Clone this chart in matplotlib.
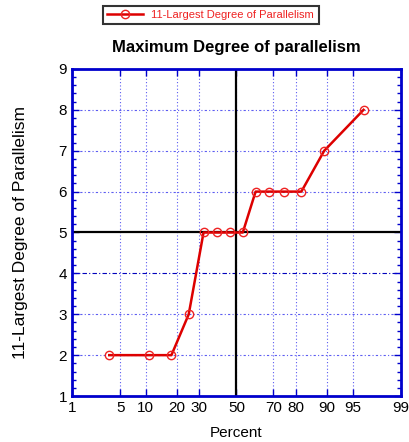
from statistics import NormalDist

import numpy as np
import matplotlib
matplotlib.use("Agg")
import matplotlib.pyplot as plt

plt.rcParams["font.family"] = ["Liberation Sans", "DejaVu Sans"]

# plotting positions (percent) and 11-largest degree of parallelism
percent = [3.6, 10.7, 17.9, 25.0, 32.1, 39.3, 46.4, 53.6, 60.7, 67.9, 75.0, 82.1, 89.3, 96.4]
degree = [2, 2, 2, 3, 5, 5, 5, 5, 6, 6, 6, 6, 7, 8]
x_ticks = [1, 5, 10, 20, 30, 50, 70, 80, 90, 95, 99]
y_ticks = [1, 2, 3, 4, 5, 6, 7, 8, 9]

ND = NormalDist()


def fwd(p):
    p = np.clip(np.asarray(p, dtype=float), 1e-6, 100 - 1e-6)
    return np.vectorize(lambda v: ND.inv_cdf(v / 100.0))(p) if p.size else p


def inv(z):
    z = np.asarray(z, dtype=float)
    return np.vectorize(lambda v: ND.cdf(v) * 100.0)(z) if z.size else z


fig = plt.figure(figsize=(4.09, 4.42), dpi=100)
ax = fig.add_axes([0.176, 0.104, 0.804, 0.740])
ax.set_xscale("function", functions=(fwd, inv))
ax.set_xlim(1, 99)
ax.set_ylim(1, 9)

blue = "#0000cc"
for xv in x_ticks[1:-1]:
    ax.axvline(xv, color="#3333ee", ls=(0, (1, 2)), lw=0.8, alpha=0.8, zorder=1)
for yv in y_ticks[1:-1]:
    if yv == 4:
        ax.axhline(yv, color="#0000bb", ls=(0, (4, 2, 1, 2)), lw=0.8, zorder=1)
    elif yv != 5:
        ax.axhline(yv, color="#3333ee", ls=(0, (2, 2, 1, 2)), lw=0.8, alpha=0.8, zorder=1)
ax.axvline(50, color="black", lw=1.6, zorder=2)
ax.axhline(5, color="black", lw=1.6, zorder=2)

ax.plot(percent, degree, color="#dd0000", lw=1.8, marker="o", ms=6,
        mfc="none", mec="#ee2222", mew=1.0, zorder=3,
        label="11-Largest Degree of Parallelism")

ax.set_xticks(x_ticks)
ax.set_xticklabels([str(v) for v in x_ticks])
ax.xaxis.set_minor_locator(matplotlib.ticker.NullLocator())
ax.set_yticks(y_ticks)
ax.set_yticks(np.arange(1, 9.01, 0.2), minor=True)
ax.tick_params(axis="both", which="major", labelsize=11, direction="in",
               length=5, color=blue, width=1, top=True, right=True)
ax.tick_params(axis="y", which="minor", direction="in", length=3,
               color=blue, width=1, right=True)
for s in ax.spines.values():
    s.set_color(blue)
    s.set_linewidth(2)

ax.set_xlabel("Percent", fontsize=11, labelpad=8)
ax.set_ylabel("11-Largest Degree of Parallelism", fontsize=12.5, labelpad=22)
ax.set_title("Maximum Degree of parallelism", fontsize=12, fontweight="bold", pad=12)

leg = fig.legend(loc="upper center", bbox_to_anchor=(0.515, 1.0), fontsize=8,
                 frameon=True, fancybox=False, edgecolor="black",
                 handlelength=3.2, borderpad=0.4)
leg.get_frame().set_linewidth(1.5)
for t in leg.get_texts():
    t.set_color("#ee2222")

fig.savefig("out.png", dpi=100)
